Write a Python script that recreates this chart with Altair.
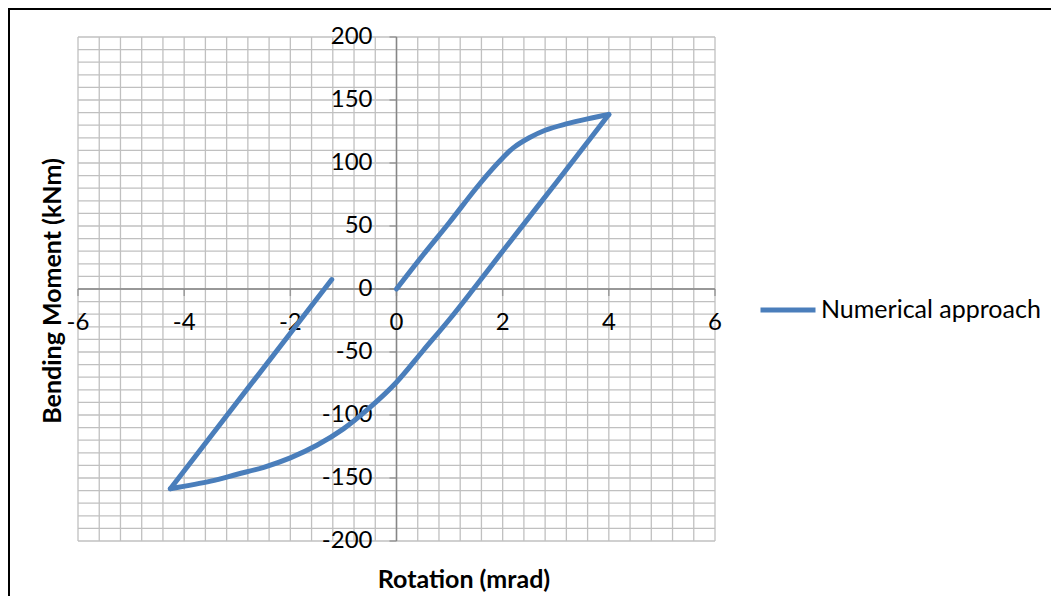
import altair as alt
import pandas as pd

# ---- data ----
# loading branch, unloading branch, reloading branch
rotation = [0, 0.5, 1.0, 1.5, 1.8, 2.0, 2.2, 2.5, 2.8, 3.2, 3.6, 4.0,
            4.0, 3.0, 2.0, 1.45, 1.0, 0.5, 0, -0.5, -1.0, -1.5, -2.0, -2.5, -3.0, -3.5, -4.26,
            -4.26, -1.22]
moment = [0, 27, 53, 80, 95, 104, 112, 120, 126, 131, 135, 138.5,
          138.5, 84, 30, 0, -24, -49, -74, -94, -111, -124, -134, -141.5, -147, -152.5, -158.5,
          -158.5, 7.5]
branch = ["load"] * 12 + ["unload"] * 15 + ["reload"] * 2
series_name = "Numerical approach"

x_tick_values = [-6, -4, -2, 0, 2, 4, 6]
x_tick_labels = ["-6", "-4", "-2", "0", "2", "4", "6"]
y_tick_values = [200, 150, 100, 50, 0, -50, -100, -150, -200]
y_tick_labels = ["200", "150", "100", "50", "0", "-50", "-100", "-150", "-200"]
x_grid = [round(-6 + 0.4 * i, 2) for i in range(31)]
y_grid = list(range(-200, 201, 10))

x_title = "Rotation (mrad)"
y_title = "Bending Moment (kNm)"

# ---- layout ----
W, H = 637, 504
PAD_L, PAD_T, PAD_R, PAD_B = 70, 29, 336, 55
FONT = "Lato"
BLUE = "#4A7EBB"
GRID = "#C0C0C0"
AXIS = "#868686"

xs = alt.Scale(domain=[-6, 6], nice=False, zero=False)
ys = alt.Scale(domain=[-200, 200], nice=False, zero=False)

df = pd.DataFrame({"rot": rotation, "mom": moment, "branch": branch,
                   "order": list(range(len(rotation))),
                   "series": [series_name] * len(rotation)})

gx = alt.Chart(pd.DataFrame({"v": x_grid})).mark_rule(color=GRID, strokeWidth=1.3).encode(
    x=alt.X("v:Q", scale=xs, axis=None))
gy = alt.Chart(pd.DataFrame({"v": y_grid})).mark_rule(color=GRID, strokeWidth=1.3).encode(
    y=alt.Y("v:Q", scale=ys, axis=None))

one = pd.DataFrame({"zero": [0]})
ax_y = alt.Chart(one).mark_rule(color=AXIS, strokeWidth=1.5).encode(
    x=alt.X("zero:Q", scale=xs, axis=None))
ax_x = alt.Chart(one).mark_rule(color=AXIS, strokeWidth=1.5).encode(
    y=alt.Y("zero:Q", scale=ys, axis=None))

xt_df = pd.DataFrame({"v": x_tick_values, "t": x_tick_labels, "zero": 0})
yt_df = pd.DataFrame({"v": y_tick_values, "t": y_tick_labels, "zero": 0})

xticks = alt.Chart(xt_df).mark_tick(orient="vertical", size=7, thickness=1.5, color=AXIS,
                                    yOffset=3.5).encode(
    x=alt.X("v:Q", scale=xs, axis=None), y=alt.Y("zero:Q", scale=ys, axis=None))
yticks = alt.Chart(yt_df).mark_tick(orient="horizontal", size=7, thickness=1.5, color=AXIS,
                                    xOffset=-3.5).encode(
    y=alt.Y("v:Q", scale=ys, axis=None), x=alt.X("zero:Q", scale=xs, axis=None))

xlab = alt.Chart(xt_df).mark_text(font=FONT, fontSize=24, color="black", align="center",
                                  baseline="middle", dy=34).encode(
    x=alt.X("v:Q", scale=xs, axis=None), y=alt.Y("zero:Q", scale=ys, axis=None), text="t:N")
ylab = alt.Chart(yt_df).mark_text(font=FONT, fontSize=24, color="black", align="right",
                                  baseline="middle", dx=-24).encode(
    y=alt.Y("v:Q", scale=ys, axis=None), x=alt.X("zero:Q", scale=xs, axis=None), text="t:N")

line = alt.Chart(df).mark_line(strokeWidth=5, strokeJoin="round", strokeCap="round",
                               interpolate="catmull-rom").encode(
    x=alt.X("rot:Q", scale=xs, axis=None),
    y=alt.Y("mom:Q", scale=ys, axis=None),
    order="order:Q",
    detail="branch:N",
    color=alt.Color("series:N", scale=alt.Scale(range=[BLUE]),
                    legend=alt.Legend(orient="none", legendX=680, legendY=243, title=None,
                                      symbolType="stroke", symbolSize=3025,
                                      symbolStrokeWidth=5, labelFont=FONT, labelFontSize=25,
                                      labelColor="black", labelOffset=3, labelLimit=0,
                                      padding=0)),
)

xtitle = alt.Chart(one).mark_text(font=FONT, fontSize=25, fontWeight="bold", color="black",
                                  align="center", baseline="middle", text=x_title).encode(
    x=alt.value(386), y=alt.value(543))
ytitle = alt.Chart(one).mark_text(font=FONT, fontSize=25, fontWeight="bold", color="black",
                                  align="center", baseline="middle", angle=270,
                                  text=y_title).encode(
    x=alt.value(-25), y=alt.value(254))

frame_l = alt.Chart(one).mark_rule(color="black", strokeWidth=2).encode(
    x=alt.value(-PAD_L + 1), y=alt.value(-PAD_T), y2=alt.value(H + PAD_B))
frame_t = alt.Chart(one).mark_rule(color="black", strokeWidth=2).encode(
    y=alt.value(-PAD_T + 1), x=alt.value(-PAD_L), x2=alt.value(W + PAD_R))

chart = alt.layer(
    gx, gy, ax_y, ax_x, xticks, yticks, xlab, ylab, line, xtitle, ytitle, frame_l, frame_t
).properties(
    width=W, height=H,
    autosize=alt.AutoSizeParams(type="none"),
    padding={"left": PAD_L, "top": PAD_T, "right": PAD_R, "bottom": PAD_B},
).configure_view(stroke=None)

chart.save("out.html", embed_options={"renderer": "svg", "actions": False})
